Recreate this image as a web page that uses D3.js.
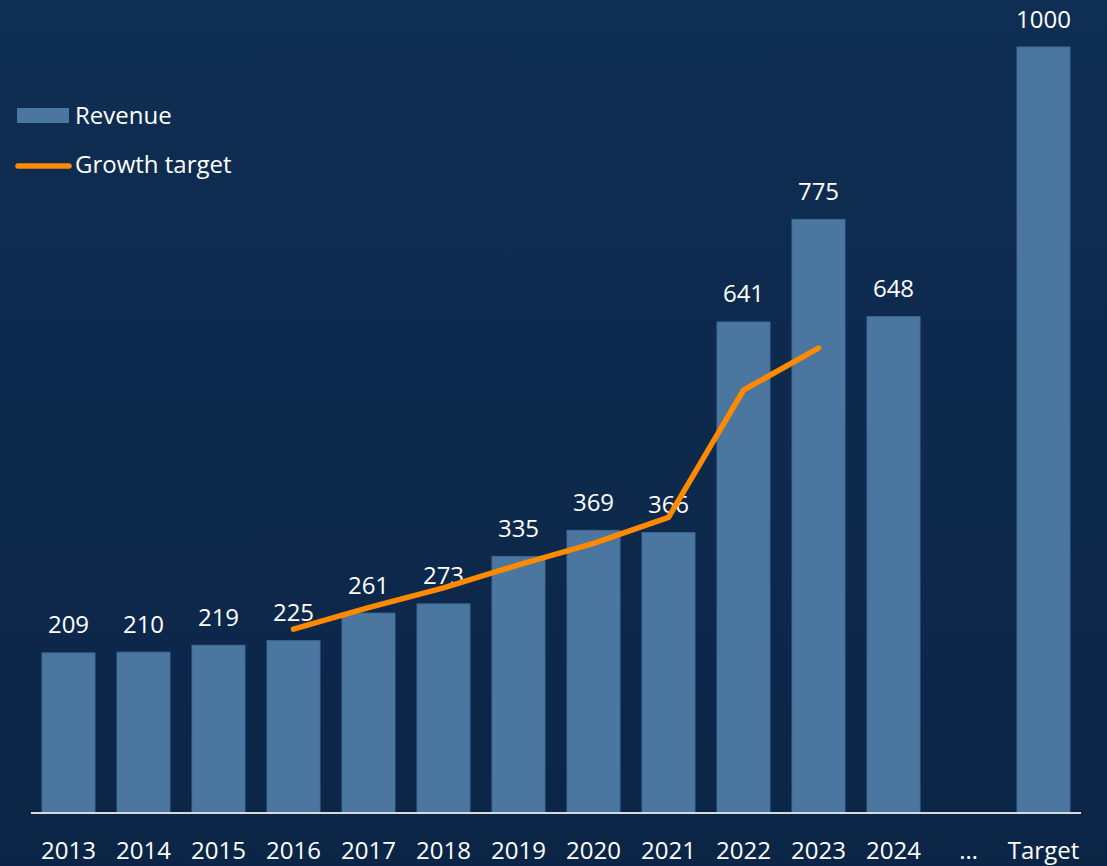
<!DOCTYPE html>
<html>
<head>
<meta charset="utf-8">
<script src="https://cdn.jsdelivr.net/npm/d3@7"></script>
<style>
  html, body { margin: 0; padding: 0; background: #0d2a4c; }
  svg { display: block; }
</style>
</head>
<body>
<svg id="chart" width="1107" height="866"></svg>
<script>
const categories = ["2013","2014","2015","2016","2017","2018","2019","2020","2021","2022","2023","2024","…","Target"];
const revenue = [209, 210, 219, 225, 261, 273, 335, 369, 366, 641, 775, 648, null, 1000];
const growthCategories = ["2016","2017","2018","2019","2020","2021","2022","2023"];
const growthTarget = [240, 268, 294, 324, 352, 386, 552, 607];
const legendLabels = ["Revenue", "Growth target"];

const W = 1107, H = 866;
const svg = d3.select("#chart");
const FONT = "'Open Sans', 'Noto Sans', sans-serif";

// background
const defs = svg.append("defs");
const bg = defs.append("linearGradient").attr("id","bg").attr("x1",0).attr("y1",0).attr("x2",0).attr("y2",1);
bg.append("stop").attr("offset","0%").attr("stop-color","#0f2e53");
bg.append("stop").attr("offset","100%").attr("stop-color","#0b2546");
svg.append("rect").attr("width",W).attr("height",H).attr("fill","url(#bg)");

const x = d3.scaleBand().domain(categories).range([31, 1081]).paddingInner(0.293).paddingOuter(0.1465);
const y = d3.scaleLinear().domain([0, 1000]).range([813, 47]);

// bars
const barData = categories.map((c, i) => ({c, v: revenue[i]})).filter(d => d.v != null);
svg.append("g").selectAll("rect").data(barData).join("rect")
  .attr("x", d => x(d.c))
  .attr("y", d => y(d.v))
  .attr("width", x.bandwidth())
  .attr("height", d => y(0) - y(d.v))
  .attr("fill", "#4a76a0")
  .attr("stroke", "#3f6a94")
  .attr("stroke-width", 1);

// value labels
svg.append("g").selectAll("text").data(barData).join("text")
  .attr("x", d => x(d.c) + x.bandwidth()/2)
  .attr("y", d => y(d.v) - 19.5)
  .attr("text-anchor", "middle")
  .attr("fill", "#ffffff")
  .attr("font-family", FONT)
  .attr("font-size", 24)
  .text(d => d.v);

// growth line
const line = d3.line()
  .x((d, i) => x(growthCategories[i]) + x.bandwidth()/2)
  .y(d => y(d));
svg.append("path")
  .datum(growthTarget)
  .attr("d", line)
  .attr("fill", "none")
  .attr("stroke", "#ff8a00")
  .attr("stroke-width", 5.5)
  .attr("stroke-linejoin", "round")
  .attr("stroke-linecap", "round");

// x axis
const xAxis = d3.axisBottom(x).tickSize(0).tickPadding(0);
const gx = svg.append("g").attr("transform", `translate(0,${y(0)})`).call(xAxis);
gx.select(".domain").attr("stroke", "#d9d9d9").attr("stroke-width", 2).attr("d", "M31,0H1081");
gx.selectAll(".tick text")
  .attr("fill", "#ffffff")
  .attr("font-family", FONT)
  .attr("font-size", 24)
  .attr("dy", 0)
  .attr("y", 46);

// legend
const lg = svg.append("g");
lg.append("rect").attr("x", 17).attr("y", 108).attr("width", 52).attr("height", 15).attr("fill", "#4a76a0");
lg.append("text").attr("x", 75).attr("y", 124).attr("fill", "#fff").attr("font-family", FONT).attr("font-size", 24).text(legendLabels[0]);
lg.append("line").attr("x1", 18).attr("x2", 69).attr("y1", 166).attr("y2", 166)
  .attr("stroke", "#ff8a00").attr("stroke-width", 5.5).attr("stroke-linecap", "round");
lg.append("text").attr("x", 75).attr("y", 173).attr("fill", "#fff").attr("font-family", FONT).attr("font-size", 24).text(legendLabels[1]);
</script>
</body>
</html>
